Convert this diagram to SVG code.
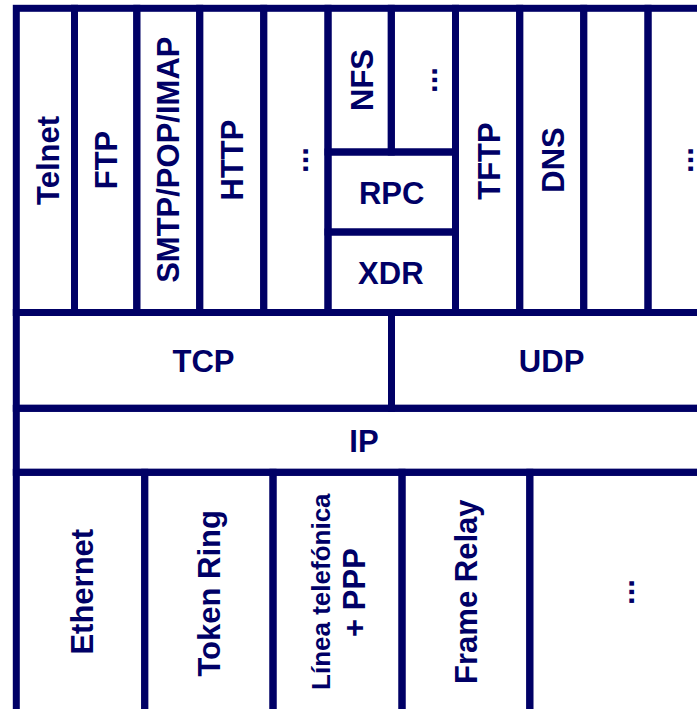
<svg xmlns="http://www.w3.org/2000/svg" width="697" height="709" viewBox="0 0 697 709">
<style>
.c{fill:none;stroke:#000066;stroke-width:7}
.t{font-family:"Liberation Sans",Arial,sans-serif;font-weight:bold;font-size:31px;fill:#000066;text-anchor:middle}
.s{font-size:26px}
</style>
<rect x="0" y="0" width="697" height="709" fill="#ffffff"/>
<g id="telnet"><rect class="c" x="16.3" y="8.3" width="58.2" height="304.2"/><text class="t" transform="translate(59.3,160.5) rotate(-90)">Telnet</text></g>
<g id="ftp"><rect class="c" x="74.5" y="8.3" width="62.3" height="304.2"/><text class="t" transform="translate(117.3,160) rotate(-90)">FTP</text></g>
<g id="smtp"><rect class="c" x="136.8" y="8.3" width="62.9" height="304.2"/><text class="t" transform="translate(178.5,159.7) rotate(-90)">SMTP/POP/IMAP</text></g>
<g id="http"><rect class="c" x="199.7" y="8.3" width="64" height="304.2"/><text class="t" transform="translate(242.5,160) rotate(-90)">HTTP</text></g>
<g id="app-more1"><rect class="c" x="263.7" y="8.3" width="64.3" height="304.2"/><text class="t" transform="translate(308,160) rotate(-90)">...</text></g>
<g id="nfs"><rect class="c" x="328" y="8.3" width="63.3" height="143.7"/><text class="t" transform="translate(372.7,80) rotate(-90)">NFS</text></g>
<g id="nfs-more"><rect class="c" x="391.3" y="8.3" width="64.2" height="143.7"/><text class="t" transform="translate(436.7,80) rotate(-90)">...</text></g>
<g id="rpc"><rect class="c" x="328" y="152" width="127.5" height="80"/><text class="t" x="391.7" y="203.5">RPC</text></g>
<g id="xdr"><rect class="c" x="328" y="232" width="127.5" height="80.5"/><text class="t" x="390.8" y="284">XDR</text></g>
<g id="tftp"><rect class="c" x="455.5" y="8.3" width="64.2" height="304.2"/><text class="t" transform="translate(500,161) rotate(-90)">TFTP</text></g>
<g id="dns"><rect class="c" x="519.7" y="8.3" width="64" height="304.2"/><text class="t" transform="translate(564,160) rotate(-90)">DNS</text></g>
<g id="app-empty"><rect class="c" x="583.7" y="8.3" width="64.3" height="304.2"/></g>
<g id="app-more2"><rect class="c" x="648" y="8.3" width="64" height="304.2"/><text class="t" transform="translate(693.3,160) rotate(-90)">...</text></g>
<g id="tcp"><rect class="c" x="16.3" y="312.5" width="375.2" height="95.8"/><text class="t" x="203.5" y="371.5">TCP</text></g>
<g id="udp"><rect class="c" x="391.5" y="312.5" width="320.5" height="95.8"/><text class="t" x="551.6" y="371.5">UDP</text></g>
<g id="ip"><rect class="c" x="16.3" y="408.3" width="695.7" height="64"/><text class="t" x="364" y="451.5">IP</text></g>
<g id="ethernet"><rect class="c" x="16.3" y="472.3" width="128.4" height="260"/><text class="t" transform="translate(93.3,591.7) rotate(-90)">Ethernet</text></g>
<g id="tokenring"><rect class="c" x="144.7" y="472.3" width="128.3" height="260"/><text class="t" transform="translate(220,593.3) rotate(-90)">Token Ring</text></g>
<g id="ppp"><rect class="c" x="273" y="472.3" width="129" height="260"/><text class="t s" transform="translate(330,591.7) rotate(-90)">Línea telefónica</text><text class="t" transform="translate(365,592.5) rotate(-90)">+ PPP</text></g>
<g id="framerelay"><rect class="c" x="402" y="472.3" width="127.8" height="260"/><text class="t" transform="translate(477,591.7) rotate(-90)">Frame Relay</text></g>
<g id="link-more"><rect class="c" x="529.8" y="472.3" width="182.2" height="260"/><text class="t" transform="translate(634,592) rotate(-90)">...</text></g>
<g id="connectors"></g>
</svg>
